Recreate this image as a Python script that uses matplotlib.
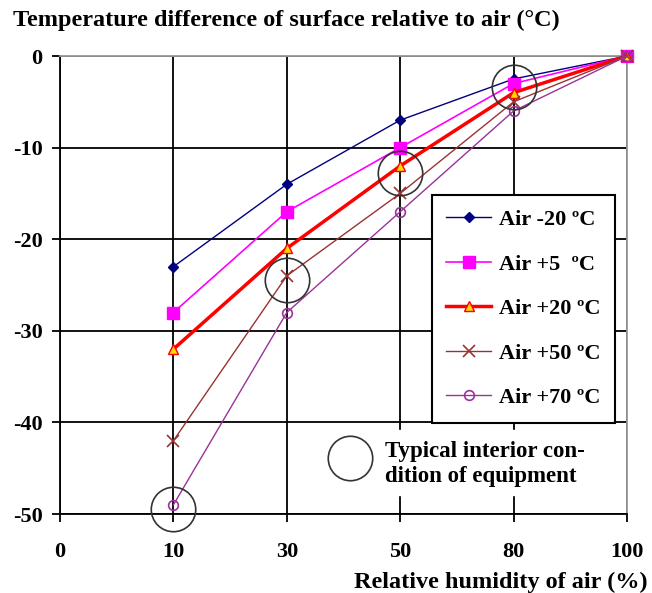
import matplotlib.pyplot as plt
from matplotlib.lines import Line2D

humidity = ["0", "10", "30", "50", "80", "100"]
series_labels = ["Air -20 \u00baC", "Air +5  \u00baC", "Air +20 \u00baC", "Air +50 \u00baC", "Air +70 \u00baC"]
air_m20 = [-23, -14, -7, -2.5, 0]
air_p5 = [-28, -17, -10, -3, 0]
air_p20 = [-32, -21, -12, -4, 0]
air_p50 = [-42, -24, -15, -5, 0]
air_p70 = [-49, -28, -17, -6, 0]
typical_x = ["10", "30", "50", "80"]
typical_y = [-49.5, -24.4, -12.8, -3.4]

plt.rcParams['font.family'] = ['Liberation Serif', 'DejaVu Serif']
plt.rcParams['font.weight'] = 'bold'
plt.rcParams['axes.unicode_minus'] = False

fig = plt.figure(figsize=(6.52, 5.93), dpi=100)
ax = fig.add_axes([0.0920, 0.1332, 0.8696, 0.7723])

xpos = {h: i for i, h in enumerate(humidity)}
x = [xpos[h] for h in humidity[1:]]

styles = [
    dict(color='#000080', lw=1.0, marker='D', ms=5, mfc='#000080', mec='#000080'),
    dict(color='#ff00ff', lw=1.2, marker='s', ms=8, mfc='#ff00ff', mec='#ff00ff'),
    dict(color='#ff0000', lw=2.5, marker='^', ms=7, mfc='#ffd700', mec='#ff0000', mew=1),
    dict(color='#993333', lw=1.0, marker='x', ms=8, mec='#993333', mew=1.2),
    dict(color='#993399', lw=1.0, marker='o', ms=7, mfc='none', mec='#993399', mew=1.2),
]
handles = []
for ys, st, lab in zip([air_m20, air_p5, air_p20, air_p50, air_p70], styles, series_labels):
    h, = ax.plot(x, ys, label=lab, clip_on=False, zorder=4, **st)
    handles.append(h)

# circles marking the typical interior condition
ax.plot([xpos[h] for h in typical_x], typical_y, ls='none', marker='o', ms=32,
        mfc='none', mec='#333333', mew=1.2, clip_on=False, zorder=5)

ax.set_xlim(0, 5)
ax.set_ylim(-50, 0)
ax.set_xticks(range(len(humidity)))
ax.set_xticklabels(humidity)
ax.set_yticks(range(-50, 1, 10))
ax.grid(True, color='black', lw=1.3)
ax.set_axisbelow(True)
ax.tick_params(labelsize=16, length=6, width=1.3)
ax.tick_params(axis='x', pad=14)
ax.tick_params(axis='y', pad=6.5)
for s in ['left', 'bottom']:
    ax.spines[s].set_linewidth(1.3)
for s in ['top', 'right']:
    ax.spines[s].set_color('#999999')
    ax.spines[s].set_linewidth(1.3)

leg = ax.legend(handles=handles, loc='upper left', bbox_to_anchor=(0.656, 0.6965),
                borderaxespad=0, fontsize=16, frameon=True, fancybox=False,
                edgecolor='black', framealpha=1, labelspacing=1.08, handlelength=2.0,
                borderpad=0.65, handletextpad=0.35)
leg.get_frame().set_linewidth(1.5)
leg.set_zorder(6)

# note box with circle
fig.patches.append(plt.Rectangle((376 / 652, 1 - 495 / 593), 226 / 652, 65 / 593,
                                 transform=fig.transFigure, color='white', zorder=3))
ax.add_artist(Line2D([350 / 652], [1 - 458 / 593], transform=fig.transFigure, marker='o',
                     ms=32, mfc='none', mec='#333333', mew=1.2, zorder=7))
fig.text(385 / 652, 1 - 464 / 593, "Typical interior con-\ndition of equipment",
         fontsize=16.5, va='center', ha='left', linespacing=1.3, zorder=7)

fig.text(13 / 652, 1 - 20 / 593, "Temperature difference of surface relative to air (\u00b0C)",
         fontsize=17.5, va='center', ha='left')
fig.text(648 / 652, 1 - 582 / 593, "Relative humidity of air (%)",
         fontsize=17.5, va='center', ha='right')

fig.savefig('out.png', dpi=100)
